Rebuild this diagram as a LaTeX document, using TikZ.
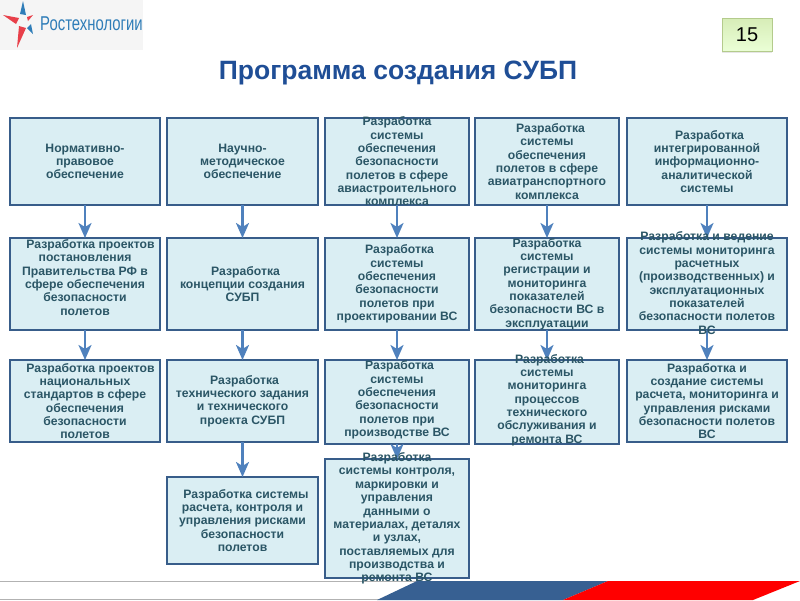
\documentclass[tikz,border=0pt]{standalone}
\usepackage{fontspec}
\setmainfont{Liberation Sans}
\usepackage{tikz}
\usetikzlibrary{arrows.meta,positioning,calc,shadows}
\definecolor{boxfill}{HTML}{DAEEF3}
\definecolor{boxline}{HTML}{385D8A}
\definecolor{boxtextcol}{HTML}{2B5666}
\definecolor{flowcol}{HTML}{4F81BD}
\definecolor{titlecol}{HTML}{1F4E96}
\definecolor{footblue}{HTML}{376092}
\definecolor{logoblue}{HTML}{2F7DB8}
\definecolor{logored}{HTML}{E8404A}
\definecolor{pagetop}{HTML}{D7EDB8}
\definecolor{pagebot}{HTML}{EBFFD6}
\definecolor{pageline}{HTML}{B4CB8C}
\tikzset{
  stepbox/.style={draw=boxline,fill=boxfill,line width=2pt,inner sep=0pt,outer sep=0pt,anchor=north west},
  boxtext/.style={text=boxtextcol,font=\fontsize{12.2}{13.35}\selectfont\bfseries,align=center,inner sep=0pt},
  flow/.style={draw=flowcol,line width=2.5pt,-{Stealth[length=15pt,width=13pt,inset=4pt]}}
}
\begin{document}
\begin{tikzpicture}[x=1pt,y=-1pt]
\useasboundingbox (0,0) rectangle (800,600);
\fill[gray!8] (0,0) rectangle (143,50);
\fill[logoblue] (23,1) -- (20,14) -- (26,15) -- cycle;
\fill[logored] (3,15) -- (16,24) -- (19,18) -- cycle;
\fill[logored] (33,15) -- (27,17) -- (28,21) -- cycle;
\fill[logored] (17,48) -- (26,28) -- (19,26) -- cycle;
\fill[logoblue] (33,34) -- (31,24) -- (27,28) -- cycle;
\node[text=logoblue,font=\fontsize{20}{20}\selectfont,xscale=0.745,inner sep=0pt] (logo) at (91.5,24) {Ростехнологии};
\node[font=\fontsize{26.5}{26.5}\selectfont\bfseries,text=titlecol,inner sep=0pt] (title) at (398,73) {Программа создания СУБП};
\node[draw=pageline,top color=pagetop,bottom color=pagebot,line width=1pt,minimum width=50pt,minimum height=33pt,inner sep=0pt,drop shadow={opacity=0.2,shadow xshift=0pt,shadow yshift=-1.5pt},font=\fontsize{20}{20}\selectfont] (pagenum) at (747,35) {15};
\draw[gray!60,line width=1pt] (0,581.5) -- (420,581.5);
\draw[gray!60,line width=1pt] (0,599) -- (380,599);
\fill[footblue] (417,581) -- (608,581) -- (563,600) -- (377,600) -- cycle;
\fill[red] (608,581) -- (800,581) -- (753,600) -- (563,600) -- cycle;
\foreach \name/\x/\y/\w/\h in {
  a1/10/118/150/87,a2/10/238/150/92,a3/10/360/150/82,
  b1/167/118/151/87,b2/167/238/151/92,b3/167/360/151/82,b4/167/477/151/87,
  c1/325/118/144/87,c2/325/238/144/92,c3/325/360/144/84,c4/325/459/144/119,
  d1/475/118/144/87,d2/475/238/144/92,d3/475/360/144/84,
  e1/627/118/160/87,e2/627/238/160/92,e3/627/360/160/82}
  \node[stepbox,minimum width=\w pt,minimum height=\h pt] (\name) at (\x,\y) {};
\foreach \from/\to in {a1/a2,a2/a3,b1/b2,b2/b3,b3/b4,c1/c2,c2/c3,c3/c4,d1/d2,d2/d3,e1/e2,e2/e3}
  \draw[flow] (\from.south) -- (\to.north);
\foreach \name/\dy/\txt in {
  a1/0/{Нормативно-\\правовое\\обеспечение},
  a2/6.5/{\hspace*{11pt}Разработка проектов\\постановления\\Правительства РФ в\\сфере обеспечения\\безопасности\\полетов},
  a3/0/{\hspace*{11pt}Разработка проектов\\национальных\\стандартов в сфере\\обеспечения\\безопасности\\полетов},
  b1/0/{Научно-\\методическое\\обеспечение},
  b2/0/{\hspace*{6pt}Разработка\\концепции создания\\СУБП},
  b3/0/{\hspace*{4pt}Разработка\\технического задания\\и технического\\проекта СУБП},
  b4/0/{\hspace*{7pt}Разработка системы\\расчета, контроля и\\управления рисками\\безопасности\\полетов},
  c1/0/{Разработка\\системы\\обеспечения\\безопасности\\полетов в сфере\\авиастроительного\\комплекса},
  c2/0/{\hspace*{5pt}Разработка\\системы\\обеспечения\\безопасности\\полетов при\\проектировании ВС},
  c3/2/{\hspace*{5pt}Разработка\\системы\\обеспечения\\безопасности\\полетов при\\производстве ВС},
  c4/0/{Разработка\\системы контроля,\\маркировки и\\управления\\данными о\\материалах, деталях\\и узлах,\\поставляемых для\\производства и\\ремонта ВС},
  d1/0/{\hspace*{7pt}Разработка\\системы\\обеспечения\\полетов в сфере\\авиатранспортного\\комплекса},
  d2/0/{Разработка\\системы\\регистрации и\\мониторинга\\показателей\\безопасности ВС в\\эксплуатации},
  d3/2/{\hspace*{5pt}Разработка\\системы\\мониторинга\\процессов\\технического\\обслуживания и\\ремонта ВС},
  e1/0/{\hspace*{5pt}Разработка\\интегрированной\\информационно-\\аналитической\\системы},
  e2/1/{Разработка и ведение\\системы мониторинга\\расчетных\\(производственных) и\\эксплуатационных\\показателей\\безопасности полетов\\ВС},
  e3/0/{Разработка и\\создание системы\\расчета, мониторинга и\\управления рисками\\безопасности полетов\\ВС}}
  \node[boxtext] (t\name) at ([yshift=\dy pt]\name.center) {\txt};
\end{tikzpicture}
\end{document}
